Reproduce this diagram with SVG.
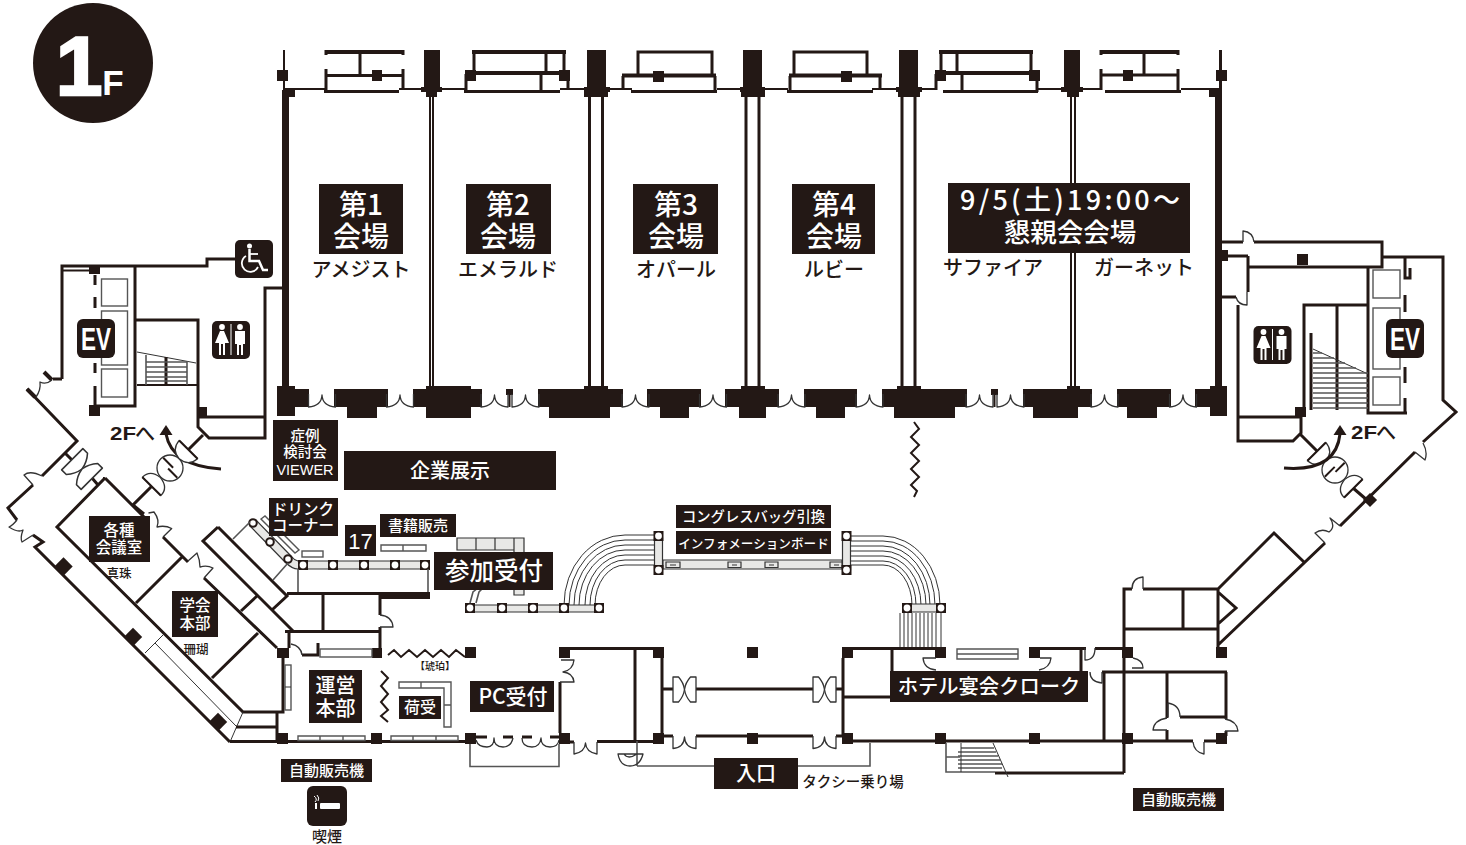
<svg xmlns="http://www.w3.org/2000/svg" xmlns:xlink="http://www.w3.org/1999/xlink" width="1466" height="845" viewBox="0 0 1466 845">
<style>
.w2,.w3,.w4,.t,.d,.g{fill:none;stroke:#231815}
.w2{stroke-width:2}.w3{stroke-width:3}.w4{stroke-width:4}
.t{stroke-width:1;stroke:#333}.d{stroke-width:1.3;stroke:#333;stroke-linejoin:round}
.g{stroke-width:1.6;stroke:#555}
.k{fill:#231815}
.wf{fill:#fff;stroke:#333;stroke-width:1.3;stroke-linejoin:round}
.bar{fill:#e8e8e6;stroke:#333;stroke-width:1.2}
.box{fill:#fff;stroke:#555;stroke-width:1.4}
.l{fill:#fff;font-family:"Noto Sans CJK JP","Noto Sans",sans-serif;font-weight:500;text-anchor:middle}
.b{fill:#231815;font-family:"Noto Sans CJK JP","Noto Sans",sans-serif;font-weight:500;text-anchor:middle}
.s{fill:#231815;font-family:"Liberation Sans",sans-serif;font-weight:700}
</style>
<defs>
<g id="st"><rect x="-5" y="-5" width="10" height="10" fill="#231815"/><circle r="3.400" fill="#fff"/></g>
<path id="dd" d="M0-1V12Q13 11 13.500 0Q14 11 27 12V-1" class="d"/>
<path id="dl" d="M0 0V12.500Q11 11.500 11.500 1Q12 11.500 23 12.500V0" class="d"/>
<g id="bt"><path class="wf" d="M-11.500-12.500V12.500H-6Q-1 7 0 0Q-1-7-6-12.500Z"/><path class="wf" d="M11.500-12.500V12.500H6Q1 7 0 0Q1-7 6-12.500Z"/></g>
<g id="rev">
<circle r="13" class="d" fill="#fff"/>
<path class="w2" d="M-1.700-1V12M2.400 2V-12"/>
<path class="wf" d="M26-13V13Q14 12 13 0Q14-12 26-13Z"/><path class="w2" d="M26-13V13"/>
<path class="wf" d="M-26-13V13Q-15 13-13.500 0Q-15-13-26-13Z"/><path class="w2" d="M-26-13V13"/>
</g>
<g id="wom"><circle cx="-9" cy="-13" r="2.900" fill="#fff"/><path d="M-11-9H-7L-2 3H-6V15H-8V4H-10V15H-12V3H-16Z" fill="#fff"/></g>
<g id="man"><circle cx="9" cy="-13" r="2.900" fill="#fff"/><path d="M4-9H14V4H12V15H10V5H8V15H6V4H4Z" fill="#fff"/></g>
<g id="wc"><rect x="-19" y="-19" width="38" height="38" rx="5" fill="#231815"/><use xlink:href="#wom"/><use xlink:href="#man"/><path d="M0-16V15" stroke="#fff"/></g>
<g id="ev"><rect x="-19" y="-19.500" width="38" height="39" rx="6" fill="#231815"/><text y="11.500" text-anchor="middle" font-family="'Liberation Sans',sans-serif" font-weight="700" font-size="31" fill="#fff" textLength="30" lengthAdjust="spacingAndGlyphs">EV</text></g>
</defs>
<rect width="1466" height="845" fill="#fff"/>

<g id="badge">
<circle cx="93" cy="63" r="60" class="k"/>
<text x="79" y="95" font-family="'Liberation Sans',sans-serif" font-weight="700" font-size="84" fill="#fff" stroke="#fff" stroke-width="2.500" text-anchor="middle">1</text>
<text x="113" y="95" font-family="'Liberation Sans',sans-serif" font-weight="700" font-size="35" fill="#fff" text-anchor="middle">F</text>
</g>

<g id="halls">
<g class="k">
<rect x="277" y="389" width="32" height="18"/><rect x="277" y="386" width="18" height="30"/>
<rect x="334" y="389" width="54" height="18"/><rect x="347" y="389" width="30" height="29"/>
<rect x="413" y="389" width="69" height="18"/><rect x="426" y="386" width="45" height="32"/>
<rect x="506" y="389" width="7" height="6"/>
<rect x="538" y="389" width="85" height="18"/><rect x="549" y="389" width="61" height="29"/><rect x="584" y="386" width="24" height="4"/>
<rect x="647" y="389" width="54" height="18"/><rect x="660" y="389" width="29" height="29"/>
<rect x="725" y="389" width="54" height="18"/><rect x="739" y="389" width="27" height="29"/><rect x="741" y="386" width="24" height="4"/>
<rect x="804" y="389" width="53" height="18"/><rect x="816" y="389" width="29" height="29"/>
<rect x="882" y="389" width="85" height="18"/><rect x="894" y="389" width="61" height="29"/><rect x="897" y="386" width="24" height="4"/>
<rect x="991" y="389" width="7" height="6"/>
<rect x="1023" y="389" width="69" height="18"/><rect x="1033" y="389" width="45" height="29"/><rect x="1067" y="386" width="13" height="4"/>
<rect x="1117" y="389" width="54" height="18"/><rect x="1127" y="389" width="30" height="29"/>
<rect x="1195" y="389" width="32" height="18"/><rect x="1210" y="386" width="17" height="30"/>
</g>
<path class="w2" d="M509.500 395V407M994.500 395V407"/>
<use xlink:href="#dd" x="308.500" y="395"/><use xlink:href="#dd" x="386.500" y="395"/>
<use xlink:href="#dd" x="481" y="395"/><use xlink:href="#dd" x="512" y="395"/>
<use xlink:href="#dd" x="622" y="395"/><use xlink:href="#dd" x="699.500" y="395"/>
<use xlink:href="#dd" x="778" y="395"/><use xlink:href="#dd" x="856" y="395"/>
<use xlink:href="#dd" x="966" y="395"/><use xlink:href="#dd" x="997" y="395"/>
<use xlink:href="#dd" x="1091" y="395"/><use xlink:href="#dd" x="1169.500" y="395"/>
<rect class="k" x="282" y="90" width="7" height="297"/><rect class="k" x="283" y="50" width="2" height="42"/>
<rect class="k" x="277" y="70" width="11" height="11"/><rect class="k" x="285" y="88" width="10" height="9"/>
<rect class="k" x="1215" y="92" width="7" height="295"/><rect class="k" x="1219" y="50" width="3" height="42"/>
<rect class="k" x="1216" y="70" width="11" height="11"/><rect class="k" x="1209" y="88" width="11" height="9"/>
<path class="w2" d="M295 89H325M399 89H466M560 89H632M717 89H788M872 89H935M1037 89H1101M1181 89H1212"/>
<g class="k">
<rect x="424" y="50" width="16" height="38"/><rect x="421" y="87" width="21" height="5"/><rect x="426" y="90" width="11" height="7"/>
<rect x="587" y="50" width="19" height="38"/><rect x="584" y="87" width="26" height="5"/><rect x="584" y="90" width="24" height="7"/>
<rect x="743" y="50" width="19" height="38"/><rect x="740" y="87" width="25" height="5"/><rect x="741" y="90" width="24" height="7"/>
<rect x="899" y="50" width="19" height="38"/><rect x="896" y="87" width="26" height="5"/><rect x="898" y="90" width="22" height="7"/>
<rect x="1064" y="50" width="16" height="38"/><rect x="1061" y="87" width="22" height="5"/><rect x="1067" y="90" width="12" height="7"/>
</g>
<path class="w2" d="M430 97V386M433 97V386M1071 97V386M1075 97V386"/>
<path class="w3" d="M589.500 97V386M602.500 97V386M746 97V386M759 97V386M902 97V386M915 97V386"/>
<path class="w4" d="M325 52H404"/><path class="w3" d="M326 50V55M403 50V55M360 52V75M325 75.500H404M326 69V92M403 69V90M324 91.500H399"/>
<rect class="k" x="372" y="70" width="10" height="11"/>
<path class="w4" d="M472 52H566M466 73H568"/><path class="w3" d="M474 52V72M564 52V72M546 52V72M466 74V92M568 76V90M464 91.500H560M541 74V91"/>
<rect class="k" x="465" y="70" width="11" height="11"/><rect class="k" x="559" y="70" width="11" height="11"/>
<path class="w3" d="M638 74V52H712V74M623 76V89M715 76V92M631 91.500H717"/><path class="w4" d="M622 75.500H716"/>
<rect class="k" x="653" y="71" width="11" height="11"/>
<path class="w3" d="M794 74V52H867V74M790 76V92M880 76V90M787 91.500H873"/><path class="w4" d="M789 75.500H882"/>
<rect class="k" x="841" y="71" width="11" height="11"/>
<path class="w4" d="M939 52H1033M936 73H1037"/><path class="w3" d="M941 52V72M1031 52V72M957 52V72M936 74V90M1037 76V92M943 91.500H1038M962 74V91"/>
<rect class="k" x="935" y="70" width="11" height="11"/><rect class="k" x="1029" y="70" width="11" height="11"/>
<path class="w4" d="M1100 52H1179"/><path class="w3" d="M1101 50V55M1178 50V55M1144 52V75M1101 75H1178M1101 69V90M1178 69V92M1105 91.500H1181"/>
<rect class="k" x="1123" y="70" width="10" height="11"/>
</g>

<g id="labels-halls">
<rect class="k" x="319" y="184" width="84" height="70"/><text class="l" font-size="28"><tspan x="361" y="215">第1</tspan><tspan x="361" y="247">会場</tspan></text>
<rect class="k" x="466" y="184" width="85" height="70"/><text class="l" font-size="28"><tspan x="508" y="215">第2</tspan><tspan x="508" y="247">会場</tspan></text>
<rect class="k" x="633" y="184" width="85" height="70"/><text class="l" font-size="28"><tspan x="676" y="215">第3</tspan><tspan x="676" y="247">会場</tspan></text>
<rect class="k" x="792" y="184" width="83" height="70"/><text class="l" font-size="28"><tspan x="834" y="215">第4</tspan><tspan x="834" y="247">会場</tspan></text>
<rect class="k" x="948" y="183" width="242" height="70"/><text class="l" font-size="27"><tspan x="1070" y="210" textLength="220">9/5(土)19:00〜</tspan><tspan x="1070" y="242" font-size="26.500">懇親会会場</tspan></text>
<text class="b" font-size="20" x="361" y="277">アメジスト</text>
<text class="b" font-size="20" x="508" y="277">エメラルド</text>
<text class="b" font-size="20" x="676" y="277">オパール</text>
<text class="b" font-size="20" x="834" y="277">ルビー</text>
<text class="b" font-size="20" x="993" y="275">サファイア</text>
<text class="b" font-size="20" x="1144" y="275">ガーネット</text>
</g>

<g id="left-wing">
<path class="w3" d="M285 288H265V438H209L198 427V320H135M135 266V406H95M62 379V266H207V259H235M62 379H53M198 417H265"/>
<path class="w2" d="M63 270.500H92"/>
<rect class="k" x="89" y="266" width="11" height="8"/><rect class="k" x="89" y="405" width="11" height="11"/><rect class="k" x="197" y="407" width="10" height="10"/>
<path class="w3" d="M95 275V285M95 297V308M95 363V373M95 386V405"/>
<rect class="box" x="101.500" y="279" width="26" height="27"/><rect class="box" x="101.500" y="311" width="26" height="54"/><rect class="box" x="101.500" y="369" width="26" height="28"/>
<path class="t" d="M137 352L196 363"/>
<path class="w2" d="M137 385H197"/><path class="w3" d="M166 357V385"/><path class="g" d="M146 355V385M187 361V385"/>
<path class="g" stroke-width="2" d="M146 362H187M146 367H187M146 372H187M146 377H187M146 381H187"/>
<use xlink:href="#ev" x="96" y="338.500"/>
<use xlink:href="#wc" x="231" y="340"/>
<g id="wheelchair"><rect class="k" x="235" y="240" width="38" height="38" rx="5"/>
<circle cx="249.500" cy="246" r="2.500" fill="#fff"/><path d="M249.500 249V261H259L263 270H268" fill="none" stroke="#fff" stroke-width="2.500"/><path d="M249 254H258" stroke="#fff" stroke-width="1.800"/><path d="M246 256A8.500 8.500 0 1 0 258 267" fill="none" stroke="#fff" stroke-width="1.800"/></g>
<text class="s" font-size="18" x="110" y="440" textLength="26" lengthAdjust="spacingAndGlyphs">2F</text><text class="b" font-size="20" font-weight="700" x="145" y="441">へ</text>
<path class="w3" d="M166 434Q172 466 221 469"/><path class="k" d="M166 425L172.500 435H159.500Z"/>
<path class="w3" d="M27 389L77 441L42 476M33 485L8 508L17 520M33 535L43 542L35 547L230 742"/>
<path class="w4" d="M27 389L35 397M44 372L52 380"/>
<path class="d" d="M52 380Q46 385 40 382Q41 390 36 397"/>
<path class="d" d="M42 476Q30 470 24 475L33 485"/>
<path class="d" d="M17 520Q12 526 9 527Q18 533 23 530Q20 538 22 542L33 535"/>
<path class="w3" d="M65 453L72 460M92 478L98 485"/>
<use xlink:href="#bt" transform="translate(82 469) rotate(45) scale(1.200)"/>
<path class="w3" d="M98 485L105 478L57 527L243 712H283V657M105 478L148 521M163 537L188 562M204 578L277 648M182 557L136 603M258 633L212 678"/>
<path class="d" d="M148.500 513L154 512Q160 520 157 527Q165 525 171.700 528.500L163 537"/>
<path class="d" d="M188 561L197 553Q200 560 200 567Q207 565 213 568L204 578"/>
<path class="w3" d="M218 527L203 541L293 631M218 527L287 596L273 609M257 596L241 611"/>
<path class="t" d="M163 635L145 653M155 643L237 727M243 712L230 742"/>
<path class="w3" stroke-width="2.500" d="M277 712V742M236 727H277"/>
<g class="k"><rect x="57" y="560" width="13" height="13" transform="rotate(45 63.500 566.500)"/><rect x="126.500" y="630.500" width="13" height="13" transform="rotate(45 133 637)"/><rect x="211.500" y="715.500" width="13" height="13" transform="rotate(45 218 722)"/></g>
<path class="w3" d="M203 435L187 451M152 486L133 505L144 514"/>
<use xlink:href="#rev" transform="translate(170 468) rotate(-45)"/>
</g>

<g id="left-rooms">
<path class="w3" d="M287 593.500H380V615M323 593V631M285 631.500H381M380 627V648M289 631V648M302 655H318V643"/>
<rect class="k" x="380" y="592" width="50" height="7"/>
<path class="d" d="M380 615Q392 616 393 627H380"/><path class="d" d="M291 644Q301 646 302 655"/>
<rect class="k" x="277" y="648" width="12" height="10"/><rect class="k" x="372" y="648" width="10" height="10"/>
<rect class="box" x="320" y="649" width="52" height="8"/>
<rect class="box" x="285" y="665" width="6" height="45"/><path class="t" d="M285 687H291"/>
<path class="w3" d="M230 741.500H465"/>
<g class="k"><rect x="277" y="733" width="11" height="11"/><rect x="371" y="733" width="11" height="11"/><rect x="465" y="733" width="11" height="11"/><rect x="559" y="733" width="11" height="11"/><rect x="465" y="647" width="11" height="11"/><rect x="559" y="647" width="11" height="11"/></g>
<path class="box" d="M298 736H365V740.500H298ZM320 736V740M343 736V740M391 736H458V740.500H391ZM413 736V740M436 736V740"/>
<path class="w2" d="M388 655L394 650L401 657L409 650L417 657L425 650L433 657L441 650L449 657L456 650L465 657"/>
<path class="w2" d="M381 671L388 678L381 686L388 694L381 702L388 710L381 716L388 722"/>
<path class="box" d="M399 682H451V727H444V688H399ZM421 682V688M444 705H451"/>
<path class="w3" d="M560 682V733"/>
<path class="d" d="M561 660H574Q573 670 563 672Q573 673 574 682H560"/>
<path class="w3" d="M476 737H487M503 737H513M522 737H532M550 737H559M570 742H574M597 741.500H664"/>
<path class="d" d="M476 740Q478 747 487 747Q494 747 494 738Q494 747 503 747Q511 747 513 738M522 738Q522 747 532 747Q540 747 541 738Q541 747 550 747Q558 747 559 740"/>
<path class="g" d="M470 744V766.500H559V744"/>
<path class="d" d="M574 742V754Q585 752 585.500 743Q586 752 597 754V742"/>
</g>

<g id="lobby">
<path class="w3" d="M559 648.500H664M635 649V741M662 658V735M664 736H673M696 736H813M836 736H845M662 689H673M696 689H813M836 689H843"/>
<g class="k"><rect x="653" y="647" width="11" height="11"/><rect x="653" y="733" width="11" height="11"/><rect x="747" y="733" width="11" height="11"/><rect x="747" y="647" width="11" height="11"/><rect x="842" y="733" width="11" height="11"/><rect x="842" y="647" width="11" height="11"/></g>
<use xlink:href="#bt" x="684.500" y="689.500"/><use xlink:href="#bt" x="824.500" y="689.500"/>
<use xlink:href="#dl" x="673" y="736"/><use xlink:href="#dl" x="813" y="736"/>
<path class="g" d="M637 741V766M637 766H714M798 766H870V743"/>
<path class="d" d="M618 754H643Q640 766 630 766Q620 766 618 754ZM624 754Q628 760 637 754"/>
</g>

<g id="right-building">
<path class="w3" d="M852 648.500H935M1040 648.500H1081V672M1081 648.500H1086M1095 648.500H1123M843 658V735M843 697H890M892 649V671M852 741H1193M1204 741H1216M1102 672H1227M1104 672V741M1124 658V773M995 773H1124M1167 672V718M1167 730V741M1180 717H1226M1226 672V719M1226 731V736"/>
<path class="w3" d="M1124 648V589H1132M1143 589H1218M1183 589V629M1124 629H1218M1218 589V648M1218 589L1274 533L1305 563M1218 592L1236 608L1218 624M1218 645L1325 543"/>
<g class="k"><rect x="935" y="647" width="11" height="11"/><rect x="1029" y="647" width="11" height="11"/><rect x="1122" y="647" width="11" height="11"/><rect x="1216" y="647" width="11" height="11"/><rect x="935" y="733" width="11" height="11"/><rect x="1029" y="733" width="11" height="11"/><rect x="1122" y="733" width="11" height="11"/><rect x="1216" y="733" width="11" height="11"/></g>
<path class="box" d="M957 649H1018V659H957ZM957 654H1018"/>
<path class="d" d="M936 658H923Q924 669 936 670M1040 658H1051Q1050 668 1039 670M1085 648V660Q1095 660 1095 648M1102 672V683Q1090 682 1090 672M1133 658Q1143 660 1143 668H1132M1132 589Q1132 578 1143 577V589M1168 703V717M1168 703Q1180 705 1180 717M1167 718Q1154 720 1153 730H1167M1225 719Q1237 721 1238 731H1225M1204 742V754Q1194 752 1193 742"/>
<path class="g" d="M946 743V772H995M946 757H960"/>
<path class="g" stroke-width="2" d="M961 748H994M958 752H996M958 756H998M958 760H1000M958 764H1002M958 768H1002"/>
<path class="t" d="M961 743V772M993 743L1008 777"/>
</g>

<g id="right-wing">
<path class="w3" d="M1222 242H1243M1254 242H1382V267H1248M1248 256V292M1222 256H1248M1222 297H1236M1238 305V441H1293L1301 433V417M1238 417H1301M1304 407V305H1368M1337 305V410M1368 268V413H1407M1382 257H1443V400L1456 412L1423 442M1415 452L1340 526M1300 434L1317 451M1353 488L1367 500"/>
<path class="w3" d="M1311 333V410"/>
<path class="d" d="M1243 242V231Q1253 232 1254 242M1236 297Q1238 305 1247 305V292"/>
<path class="d" d="M1423 443Q1428 452 1425 460L1415 452M1340 526L1330 518Q1336 527 1329 532Q1322 528 1315 533L1325 543"/>
<g class="k"><rect x="1220" y="250" width="8" height="11"/><rect x="1297" y="254" width="11" height="11"/><rect x="1295" y="407" width="11" height="10"/><rect x="1365" y="495" width="10" height="10" transform="rotate(45 1370 500)"/></g>
<path class="t" d="M1313 349L1368 374"/>
<path class="g" stroke-width="2" d="M1313 353H1322M1313 358H1334M1313 363H1345M1313 368H1356M1313 373H1368M1313 378H1368M1313 383H1368M1313 388H1368M1313 393H1368M1313 398H1368M1313 403H1368M1313 408H1368"/>
<rect class="box" x="1373" y="270" width="27" height="28"/><rect class="box" x="1373" y="308" width="27" height="61"/><rect class="box" x="1373" y="377" width="27" height="28"/>
<path class="w3" d="M1405 257V278H1410V268M1405 295V312M1405 367V383M1405 398V413"/>
<use xlink:href="#ev" x="1405" y="338.500"/>
<use xlink:href="#wc" x="1272.500" y="345"/>
<use xlink:href="#rev" transform="translate(1335 470) rotate(225)"/>
<text class="s" font-size="18" x="1351" y="439" textLength="26" lengthAdjust="spacingAndGlyphs">2F</text><text class="b" font-size="20" font-weight="700" x="1386" y="440">へ</text>
<path class="w3" d="M1340 434Q1336 472 1284 468"/><path class="k" d="M1340 425L1346.500 435H1333.500Z"/>
</g>

<g id="stanchions">
<g class="t">
<path d="M654 535H625A61 70 0 0 0 564 605M654 540H625A56 65 0 0 0 569 605M654 545H625A51 60 0 0 0 574 605M654 550H625A46 55 0 0 0 579 605M654 555H625A40 50 0 0 0 585 605M654 560H625A35 45 0 0 0 590 605M654 565H625A30 40 0 0 0 595 605"/>
<path d="M850 536H883A57 69 0 0 1 940 605M850 541H883A52 64 0 0 1 935 605M850 546H883A47 59 0 0 1 930 605M850 551H883A43 54 0 0 1 926 605M850 556H883A38 49 0 0 1 921 605M850 561H883A33 44 0 0 1 916 605M850 565H883A29 40 0 0 1 912 605"/>
<path d="M900 613V647M904 613V647M908 613V647M912 613V647M916 613V647M920 613V647M924 613V647M928 613V647M932 613V647M936 613V647M941 613V647"/>
</g>
<path class="bar" d="M470 605H599V612H470ZM907 604H941V612H907ZM663 560H842V569H663ZM654.500 538H662.500V570H654.500ZM842.500 538H850.500V570H842.500ZM298 561H425V569H298Q292 569 285 562L250 526L256 520L291 556Q294 560 298 561Z"/>
<path class="bar" d="M666 562H680V567.500H666ZM728 562H741V567.500H728ZM765 562H778V567.500H765ZM830 562H842V567.500H830Z"/>
<path class="t" d="M670 565H676M732 565H737M769 565H774M834 565H839"/>
<use xlink:href="#st" x="658.500" y="536"/><use xlink:href="#st" x="658.500" y="570"/><use xlink:href="#st" x="846.500" y="536"/><use xlink:href="#st" x="846.500" y="570"/>
<use xlink:href="#st" x="907" y="608"/><use xlink:href="#st" x="941" y="608"/>
<use xlink:href="#st" x="470" y="608"/><use xlink:href="#st" x="502" y="608"/><use xlink:href="#st" x="533" y="608"/><use xlink:href="#st" x="564" y="608"/><use xlink:href="#st" x="599" y="608"/>
<use xlink:href="#st" x="303" y="565"/><use xlink:href="#st" x="333" y="565"/><use xlink:href="#st" x="364" y="565"/><use xlink:href="#st" x="395" y="565"/><use xlink:href="#st" x="425" y="565"/>
<circle cx="253" cy="523" r="3.800" fill="#fff" stroke="#231815" stroke-width="2"/><circle cx="270" cy="542" r="3.800" fill="#fff" stroke="#231815" stroke-width="2"/><circle cx="288" cy="559" r="3.800" fill="#fff" stroke="#231815" stroke-width="2"/>
<path class="g" d="M233 539L250 522M273 580L288 563M298 569V592M428 569V592"/>
<path class="box" d="M261 519L265 516L299 550L295 553Z"/>
<rect class="box" x="302" y="551" width="21" height="6"/>
<path class="box" d="M381 545H426V551H381ZM403 545V551"/>
<path class="bar" d="M457 538H524V595H514V550H457ZM476 538V550M495 538V550M514 538V550"/>
<path class="g" d="M470 603L473 592L478 588M476 603L479 592L483 588"/>
</g>

<g id="labels-lower">
<rect class="k" x="273" y="420" width="65" height="61"/><text class="l" font-size="14.500"><tspan x="305" y="441">症例</tspan><tspan x="305" y="457">検討会</tspan><tspan x="305" y="475" style="font-family:'Liberation Sans',sans-serif">VIEWER</tspan></text>
<rect class="k" x="344" y="451" width="212" height="39"/><text class="l" font-size="20" x="450" y="478">企業展示</text>
<path class="w2" d="M914 422L919 429L911 437L919 445L911 453L919 461L911 469L919 477L911 485L917 491L914 497"/>
<rect class="k" x="269" y="498" width="69" height="38"/><text class="l" font-size="15.500"><tspan x="303" y="515">ドリンク</tspan><tspan x="303" y="531">コーナー</tspan></text>
<rect class="k" x="345" y="525" width="31" height="31"/><text class="l" font-size="22" x="360.500" y="549" style="font-family:'Liberation Sans',sans-serif">17</text>
<rect class="k" x="380" y="514" width="76" height="23"/><text class="l" font-size="15" x="418" y="531">書籍販売</text>
<rect class="k" x="434" y="552" width="119" height="38"/><text class="l" font-size="24.500" x="494" y="580">参加受付</text>
<rect class="k" x="676" y="505" width="155" height="23"/><text class="l" font-size="14.300" x="753.500" y="522">コングレスバッグ引換</text>
<rect class="k" x="676" y="531" width="155" height="23"/><text class="l" font-size="12.600" x="753.500" y="548">インフォメーションボード</text>
<rect class="k" x="89" y="516" width="61" height="46"/><text class="l" font-size="15.500"><tspan x="119" y="536">各種</tspan><tspan x="119" y="553">会議室</tspan></text>
<text class="b" font-size="12.500" x="119" y="578">真珠</text>
<rect class="k" x="172" y="591" width="46" height="46"/><text class="l" font-size="15.500"><tspan x="195" y="611">学会</tspan><tspan x="195" y="629">本部</tspan></text>
<text class="b" font-size="12.500" x="196" y="654">珊瑚</text>
<rect class="k" x="309" y="670" width="53" height="53"/><text class="l" font-size="20"><tspan x="335.500" y="693">運営</tspan><tspan x="335.500" y="716">本部</tspan></text>
<text class="b" font-size="10" x="435" y="670">【琥珀】</text>
<rect class="k" x="399" y="696" width="42" height="23"/><text class="l" font-size="16" x="420" y="713">荷受</text>
<rect class="k" x="470" y="681" width="84" height="31"/><text class="l" font-size="21" x="513" y="704">PC受付</text>
<rect class="k" x="890" y="671" width="198" height="31"/><text class="l" font-size="20.300" x="989" y="694">ホテル宴会クローク</text>
<rect class="k" x="714" y="758" width="84" height="31"/><text class="l" font-size="20" x="756" y="781">入口</text>
<text class="b" font-size="14.500" font-weight="700" x="853" y="787">タクシー乗り場</text>
<rect class="k" x="281" y="759" width="91" height="23"/><text class="l" font-size="15" x="326.500" y="776">自動販売機</text>
<rect class="k" x="1133" y="788" width="91" height="23"/><text class="l" font-size="15" x="1178.500" y="805">自動販売機</text>
<g id="smoking"><rect class="k" x="307" y="786" width="40" height="40" rx="6"/><rect x="320" y="803" width="20" height="6" rx="1" fill="#fff"/><path d="M316 803V809" stroke="#fff" stroke-width="2"/><path d="M314 796Q318 799 315 802M317 795Q320 798 318 801" stroke="#fff" fill="none"/></g>
<text class="b" font-size="15" font-weight="700" x="327" y="842">喫煙</text>
</g>
</svg>
